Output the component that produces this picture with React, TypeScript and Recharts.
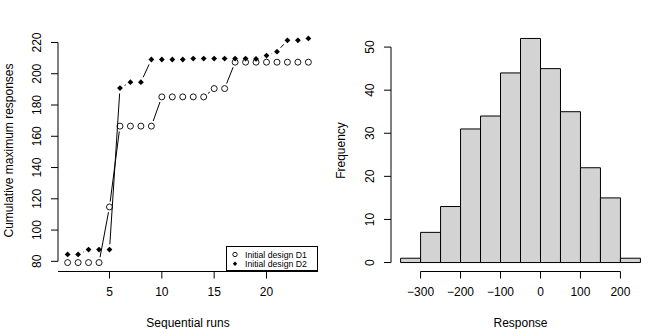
import {
  ComposedChart,
  Line,
  Bar,
  XAxis,
  YAxis,
  ReferenceLine,
  Legend,
  Label,
} from "recharts"

const FONT = "'Liberation Sans', Arial, Helvetica, sans-serif"

// left panel: cumulative maximum responses per run
const runs = [1, 2, 3, 4, 5, 6, 7, 8, 9, 10, 11, 12, 13, 14, 15, 16, 17, 18, 19, 20, 21, 22, 23, 24]
const designD1 = [
  79.2, 79.2, 79.2, 79.2, 114.8, 166.5, 166.5, 166.5, 166.5, 185.2, 185.2, 185.2,
  185.2, 185.2, 190.5, 190.5, 207.4, 207.4, 207.4, 207.4, 207.4, 207.4, 207.4, 207.4,
]
const designD2 = [
  84.4, 84.4, 87.5, 87.5, 87.5, 190.8, 194.6, 194.6, 209.1, 209.1, 209.1, 209.1,
  209.7, 209.7, 209.7, 209.7, 209.7, 209.7, 209.5, 211.6, 214.1, 221.4, 221.4, 222.6,
]
const runTicks = [5, 10, 15, 20]
const responseTicks = [80, 100, 120, 140, 160, 180, 200, 220]
const legendItems = ["Initial design D1", "Initial design D2"]

// right panel: histogram of responses
const binCenters = [-325, -275, -225, -175, -125, -75, -25, 25, 75, 125, 175, 225]
const binCounts = [1, 7, 13, 31, 34, 44, 52, 45, 35, 22, 15, 1]
const responseAxisTicks = [-300, -200, -100, 0, 100, 200]
const freqTicks = [0, 10, 20, 30, 40, 50]

const runData = runs.map((r, i) => ({ run: r, d1: designD1[i], d2: designD2[i] }))
const histData = binCenters.map((c, i) => ({ mid: c, count: binCounts[i] }))

const GAP = 5.4

function makeDot(kind: "circle" | "diamond") {
  return (props: any) => {
    const { cx, cy, index, points } = props
    const next = points?.[index + 1]
    let seg = null
    if (next) {
      const dx = next.x - cx
      const dy = next.y - cy
      const d = Math.hypot(dx, dy)
      if (d > 2 * GAP) {
        const ux = dx / d
        const uy = dy / d
        seg = (
          <line
            x1={cx + ux * GAP}
            y1={cy + uy * GAP}
            x2={next.x - ux * GAP}
            y2={next.y - uy * GAP}
            stroke="#000"
            strokeWidth={1}
          />
        )
      }
    }
    const s = 2.9
    return (
      <g key={`${kind}-${index}`}>
        {seg}
        {kind === "circle" ? (
          <circle cx={cx} cy={cy} r={3} fill="none" stroke="#000" strokeWidth={0.9} />
        ) : (
          <polygon points={`${cx},${cy - s} ${cx + s},${cy} ${cx},${cy + s} ${cx - s},${cy}`} fill="#000" />
        )}
      </g>
    )
  }
}

const fmt = (v: number) => (v < 0 ? `\u2212${Math.abs(v)}` : `${v}`)

function XTick(props: any) {
  const { x, y, payload } = props
  return (
    <text x={x} y={y + 15} textAnchor="middle" fontSize={12} fontFamily={FONT} fill="#000">
      {fmt(payload.value)}
    </text>
  )
}

function YTick(props: any) {
  const { x, y, payload } = props
  const bx = x - 7.5
  return (
    <text
      x={bx}
      y={y}
      transform={`rotate(-90, ${bx}, ${y})`}
      textAnchor="middle"
      fontSize={12}
      fontFamily={FONT}
      fill="#000"
    >
      {payload.value}
    </text>
  )
}

function LegendBox() {
  return (
    <svg width={92} height={25} style={{ display: "block" }}>
      <rect x={0.5} y={0.5} width={91} height={24} fill="#fff" stroke="#000" />
      <circle cx={9} cy={8.5} r={2.2} fill="none" stroke="#000" strokeWidth={0.9} />
      <polygon points="9,15.6 11.2,17.8 9,20 6.8,17.8" fill="#000" />
      {legendItems.map((t, i) => (
        <text key={t} x={19} y={11.5 + i * 9.3} fontSize={8.7} fontFamily={FONT} fill="#000">
          {t}
        </text>
      ))}
    </svg>
  )
}

const labelStyle = { fontSize: 12, fontFamily: FONT, fill: "#000", textAnchor: "middle" as const }

export default function App() {
  return (
    <div style={{ position: "absolute", left: 0, top: 0, width: 665, height: 329, background: "#fff" }}>
      <div style={{ position: "absolute", left: 0, top: 0 }}>
        <ComposedChart width={333} height={329} data={runData} margin={{ top: 29.5, right: 15, bottom: 0, left: 0 }}>
          <XAxis
            dataKey="run"
            type="number"
            domain={[0.08, 24.92]}
            ticks={runTicks}
            allowDataOverflow
            height={57.5}
            tickSize={7}
            axisLine={{ stroke: "#000" }}
            tickLine={{ stroke: "#000" }}
            tick={<XTick />}
          >
            <Label value="Sequential runs" position="insideBottom" offset={2.5} style={labelStyle} />
          </XAxis>
          <YAxis
            type="number"
            domain={[73.5, 228.3]}
            ticks={responseTicks}
            allowDataOverflow
            width={58}
            tickSize={7}
            axisLine={false}
            tickLine={{ stroke: "#000" }}
            tick={<YTick />}
          >
            <Label
              value="Cumulative maximum responses"
              angle={-90}
              position="insideLeft"
              offset={9}
              style={labelStyle}
            />
          </YAxis>
          <ReferenceLine
            segment={[
              { x: 0.08, y: 80 },
              { x: 0.08, y: 220 },
            ]}
            stroke="#000"
          />
          <Line dataKey="d1" stroke="none" dot={makeDot("circle")} activeDot={false} isAnimationActive={false} />
          <Line dataKey="d2" stroke="none" dot={makeDot("diamond")} activeDot={false} isAnimationActive={false} />
          <Legend
            layout="horizontal"
            verticalAlign="middle"
            content={() => <LegendBox />}
            wrapperStyle={{ left: 226, top: 245.5, width: 92, height: 25 }}
          />
        </ComposedChart>
      </div>
      <div style={{ position: "absolute", left: 332, top: 0 }}>
        <ComposedChart
          width={333}
          height={329}
          data={histData}
          barCategoryGap={0}
          barGap={0}
          margin={{ top: 29.5, right: 15, bottom: 0, left: 0 }}
        >
          <XAxis
            dataKey="mid"
            type="number"
            domain={[-374, 274]}
            ticks={responseAxisTicks}
            allowDataOverflow
            height={57.5}
            tickSize={7}
            axisLine={false}
            tickLine={{ stroke: "#000" }}
            tick={<XTick />}
          >
            <Label value="Response" position="insideBottom" offset={2.5} style={labelStyle} />
          </XAxis>
          <YAxis
            type="number"
            domain={[-2.08, 54.08]}
            ticks={freqTicks}
            allowDataOverflow
            width={59}
            tickSize={7}
            axisLine={false}
            tickLine={{ stroke: "#000" }}
            tick={<YTick />}
          >
            <Label value="Frequency" angle={-90} position="insideLeft" offset={9} style={labelStyle} />
          </YAxis>
          <Bar dataKey="count" fill="#d3d3d3" stroke="#000" strokeWidth={1} isAnimationActive={false} />
          <ReferenceLine
            segment={[
              { x: -374, y: 0 },
              { x: -374, y: 50 },
            ]}
            stroke="#000"
          />
          <ReferenceLine
            segment={[
              { x: -300, y: -2.08 },
              { x: 200, y: -2.08 },
            ]}
            stroke="#000"
          />
        </ComposedChart>
      </div>
    </div>
  )
}
